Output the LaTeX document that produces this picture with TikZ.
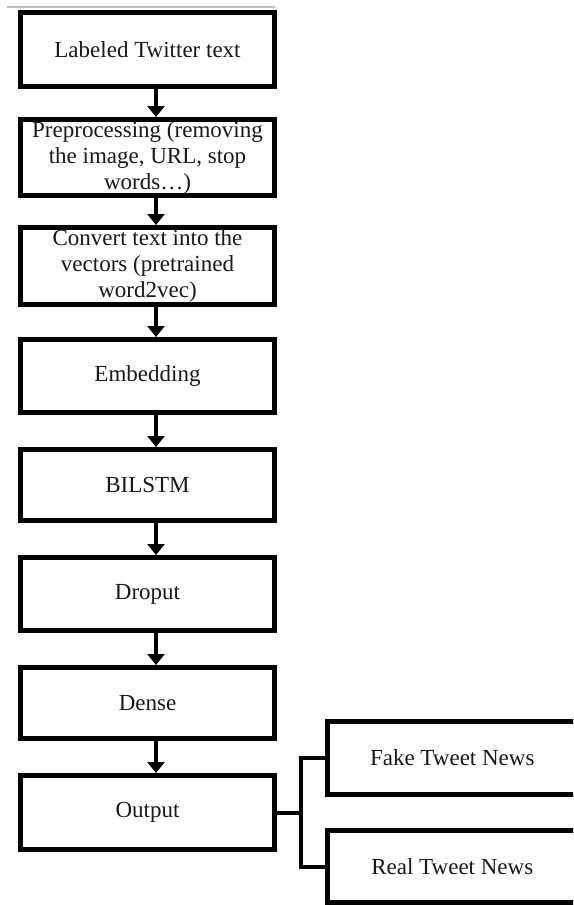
\documentclass[tikz,border=0pt]{standalone}
\usepackage{fontspec}
\setmainfont{Liberation Serif}
\usetikzlibrary{arrows.meta}
\begin{document}
\begin{tikzpicture}[x=1pt,y=-1pt,
  box/.style={draw=black, line width=5pt, minimum width=254pt, minimum height=74pt,
    inner sep=0pt, align=center, font=\fontsize{23}{26}\selectfont, text=black!90},
  sidebox/.style={box, minimum width=249.5pt},
  flow/.style={line width=4pt, -{Triangle[width=17pt,length=11pt]}},
  branch/.style={line width=4pt}]
\useasboundingbox (0,0) rectangle (573,905);
\clip (0,0) rectangle (573,905);
\fill[white] (0,0) rectangle (573,905);
\draw[black!25, line width=2pt] (7,6.5) -- (275,6.5);
\node[box] (b1) at (147.5,49.5) {Labeled Twitter text};
\node[box, minimum height=76pt] (b2) at (147.5,157.5) {Preprocessing (removing\\the image, URL, stop\\words…)};
\node[box, minimum height=77pt] (b3) at (147.5,266) {Convert text into the\\vectors (pretrained\\word2vec)};
\node[box, minimum height=73pt] (b4) at (147.5,376) {Embedding};
\node[box, minimum height=71pt] (b5) at (147.5,485) {BILSTM};
\node[box, minimum height=73pt] (b6) at (147.5,594) {Droput};
\node[box, minimum height=71pt] (b7) at (147.5,703) {Dense};
\node[box, minimum height=74pt] (b8) at (147.5,812.5) {Output};
\node[sidebox, minimum height=73pt] (fake) at (452.25,758) {Fake Tweet News};
\node[sidebox, minimum height=72pt] (real) at (452.25,866.5) {Real Tweet News};
\foreach \a/\b in {b1/b2,b2/b3,b3/b4,b4/b5,b5/b6,b6/b7,b7/b8}
  \draw[flow] ([xshift=8.5pt]\a.south) -- ([xshift=8.5pt]\b.north);
\draw[branch] (b8.east) -- ++(23.5,0) coordinate (j);
\draw[branch] (fake.west) -| (j) |- (real.west);
\end{tikzpicture}
\end{document}
